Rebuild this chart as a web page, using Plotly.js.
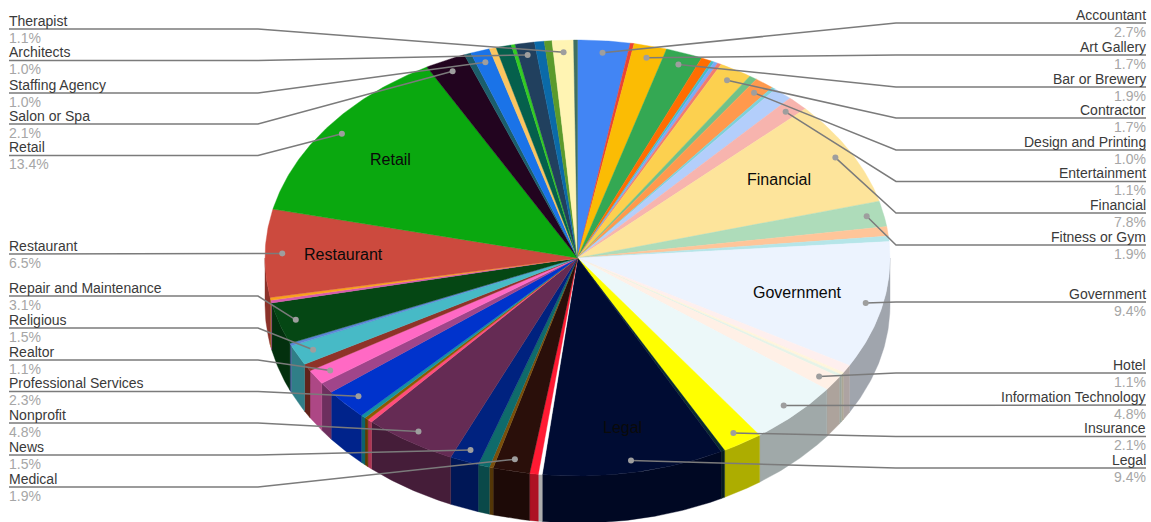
<!DOCTYPE html>
<html>
<head>
<meta charset="utf-8">
<script src="https://cdn.plot.ly/plotly-3.0.1.min.js"></script>
<style>html,body{margin:0;padding:0;background:#fff}#chart{width:1151px;height:522px}</style>
</head>
<body>
<div id="chart"></div>
<script>
// Business categories, clockwise from twelve o'clock. Unnamed entries are the slivers without a callout.
const sliceNames = ['Accountant','','Art Gallery','Bar or Brewery','','','','','Contractor','','Design and Printing','','','Entertainment','Financial','Fitness or Gym','','','Government','','','','Hotel','Information Technology','Insurance','','Legal','','','Medical','','','News','Nonprofit','','','','Professional Services','','Realtor','','Religious','','Repair and Maintenance','','','Restaurant','Retail','Salon or Spa','','Staffing Agency','','','','Architects','','','Therapist',''];
const sliceValues = [2.7,0.2,1.7,1.9,0.55,0.15,0.2,0.2,1.7,0.4,1.0,0.2,1.0,1.1,7.8,1.9,0.7,0.4,9.4,0.6,0.2,0.2,1.1,4.8,2.1,0.2,9.4,0.2,0.45,1.9,0.2,0.6,1.5,4.8,0.25,0.2,0.25,2.3,0.8,1.1,0.55,1.5,0.2,3.1,0.2,0.2,6.5,13.4,2.1,0.35,1.0,0.35,0.8,0.2,1.0,0.5,0.4,1.1,0.2];
const sliceColors = ['#4285F4','#EA4335','#FBBC04','#34A853','#FF6D01','#46BDC6','#7BAAF7','#F07B72','#FCD04F','#71C287','#FF994D','#7ED1D7','#B3CEFB','#F7B4AE','#FDE49B','#AEDCBA','#FFC599','#B5E5E8','#ECF3FE','#FEEFEE','#FFF5DC','#E5F3E8','#FFF0E6','#ECF8F9','#FFFF00','#0A2B2E','#000C33','#FFFFFF','#FF1A33','#2A0F0A','#7A4F0A','#0F6B6B','#00227F','#652B54','#FF4D7A','#8C5A00','#1492A0','#0033CC','#A0458A','#FF69C4','#8F3328','#47BAC6','#5C86D6','#054714','#D85BB0','#F9A11E','#CC4A3E','#0AA80F','#22041F','#1C5E6B','#1A73E8','#FBC560','#05604C','#33CC22','#21405E','#0B6AA8','#5B9A2C','#FFF4B3','#3F7060'];

// Callout rows: the y of each underline, per side of the chart.
const leftRows = {'Therapist':29,'Architects':60.5,'Staffing Agency':93,'Salon or Spa':124,'Retail':155.5,'Restaurant':254,'Repair and Maintenance':296,'Religious':328,'Realtor':360,'Professional Services':391.5,'Nonprofit':423,'News':455,'Medical':487};
const rightRows = {'Accountant':23,'Art Gallery':55,'Bar or Brewery':87,'Contractor':118,'Design and Printing':150,'Entertainment':181.5,'Financial':213,'Fitness or Gym':245,'Government':302,'Hotel':373,'Information Technology':405,'Insurance':436.5,'Legal':468};
// Names printed on the slice itself, with the radial position of the text.
const insideLabels = {'Retail':0.75,'Restaurant':0.75,'Financial':0.74,'Government':0.72,'Legal':0.79};

// Disc geometry in plot units
const CX = 577.5, CY = 258, RX = 312.5, RY = 218, DEPTH = 47;
const DOT_R = 0.945, LEFT_X = 9, LEFT_ELBOW = 258, RIGHT_X = 1146, RIGHT_ELBOW = 896;
const FONT = 'Liberation Sans, Arial, sans-serif';

const total = sliceValues.reduce((a, b) => a + b, 0);
const ex = (t, r) => CX + RX * r * Math.sin(t);
const ey = (t, r) => CY - RY * r * Math.cos(t);

function shade(hex, k) {
  const n = parseInt(hex.slice(1), 16);
  return `rgb(${Math.round((n >> 16 & 255) * k)},${Math.round((n >> 8 & 255) * k)},${Math.round((n & 255) * k)})`;
}

const walls = [], tops = [], lineTraces = [], annotations = [];
const dotX = [], dotY = [];
let running = 0;

sliceValues.forEach((v, i) => {
  const a0 = running / total * 2 * Math.PI;
  running += v;
  const a1 = running / total * 2 * Math.PI;
  const mid = (a0 + a1) / 2;
  const steps = Math.max(2, Math.ceil((a1 - a0) / 0.01));

  // Top face: wedge from the centre along the outer arc
  const xs = [CX], ys = [CY];
  for (let s = 0; s <= steps; s++) {
    const t = a0 + (a1 - a0) * s / steps;
    xs.push(ex(t, 1)); ys.push(ey(t, 1));
  }
  xs.push(CX); ys.push(CY);
  tops.push({type: 'scatter', mode: 'lines', x: xs, y: ys, fill: 'toself', fillcolor: sliceColors[i],
    line: {color: sliceColors[i], width: 0.4}, hoverinfo: 'skip', showlegend: false});

  // Rim: only the part of the arc facing the viewer (the lower half)
  const w0 = Math.max(a0, Math.PI / 2), w1 = Math.min(a1, 1.5 * Math.PI);
  if (w1 > w0) {
    const wx = [], wy = [];
    const ws = Math.max(2, Math.ceil((w1 - w0) / 0.01));
    for (let s = 0; s <= ws; s++) {
      const t = w0 + (w1 - w0) * s / ws;
      wx.push(ex(t, 1)); wy.push(ey(t, 1));
    }
    for (let s = ws; s >= 0; s--) {
      const t = w0 + (w1 - w0) * s / ws;
      wx.push(ex(t, 1)); wy.push(ey(t, 1) + DEPTH);
    }
    wx.push(wx[0]); wy.push(wy[0]);
    const dark = shade(sliceColors[i], 0.68);
    walls.push({type: 'scatter', mode: 'lines', x: wx, y: wy, fill: 'toself', fillcolor: dark,
      line: {color: dark, width: 0.4}, hoverinfo: 'skip', showlegend: false});
  }

  const name = sliceNames[i];
  if (!name) return;
  const pct = (v / total * 100).toFixed(1) + '%';
  const dx = ex(mid, DOT_R), dy = ey(mid, DOT_R);
  const onLeft = name in leftRows;
  const row = onLeft ? leftRows[name] : rightRows[name];
  const endX = onLeft ? LEFT_X : RIGHT_X, elbow = onLeft ? LEFT_ELBOW : RIGHT_ELBOW;

  dotX.push(dx); dotY.push(dy);
  lineTraces.push({type: 'scatter', mode: 'lines', x: [endX, elbow, dx], y: [row, row, dy],
    line: {color: '#7b7b7b', width: 1.5}, hoverinfo: 'skip', showlegend: false});

  const anchor = onLeft ? 'left' : 'right';
  const nudge = onLeft ? -2 : 2;
  annotations.push({x: endX, y: row - 8.5, xref: 'x', yref: 'y', text: name, showarrow: false,
    xanchor: anchor, yanchor: 'middle', xshift: nudge, font: {family: FONT, size: 14, color: '#3a3a3a'}});
  annotations.push({x: endX, y: row + 8.5, xref: 'x', yref: 'y', text: pct, showarrow: false,
    xanchor: anchor, yanchor: 'middle', xshift: nudge, font: {family: FONT, size: 14, color: '#a6a6a6'}});

  if (name in insideLabels) {
    annotations.push({x: ex(mid, insideLabels[name]), y: ey(mid, insideLabels[name]), xref: 'x', yref: 'y', text: name, showarrow: false,
      xanchor: 'center', yanchor: 'middle', font: {family: FONT, size: 16, color: '#0a0a0a'}});
  }
});

const dots = {type: 'scatter', mode: 'markers', x: dotX, y: dotY,
  marker: {color: '#9e9e9e', size: 6}, hoverinfo: 'skip', showlegend: false};

const layout = {
  width: 1151, height: 522,
  margin: {l: 0, r: 0, t: 0, b: 0},
  paper_bgcolor: '#ffffff', plot_bgcolor: '#ffffff',
  showlegend: false,
  xaxis: {range: [0, 1151], visible: false, fixedrange: true},
  yaxis: {range: [522, 0], visible: false, fixedrange: true},
  annotations: annotations
};

Plotly.newPlot('chart', [...walls, ...tops, ...lineTraces, dots], layout, {displayModeBar: false, staticPlot: true});
</script>
</body>
</html>
